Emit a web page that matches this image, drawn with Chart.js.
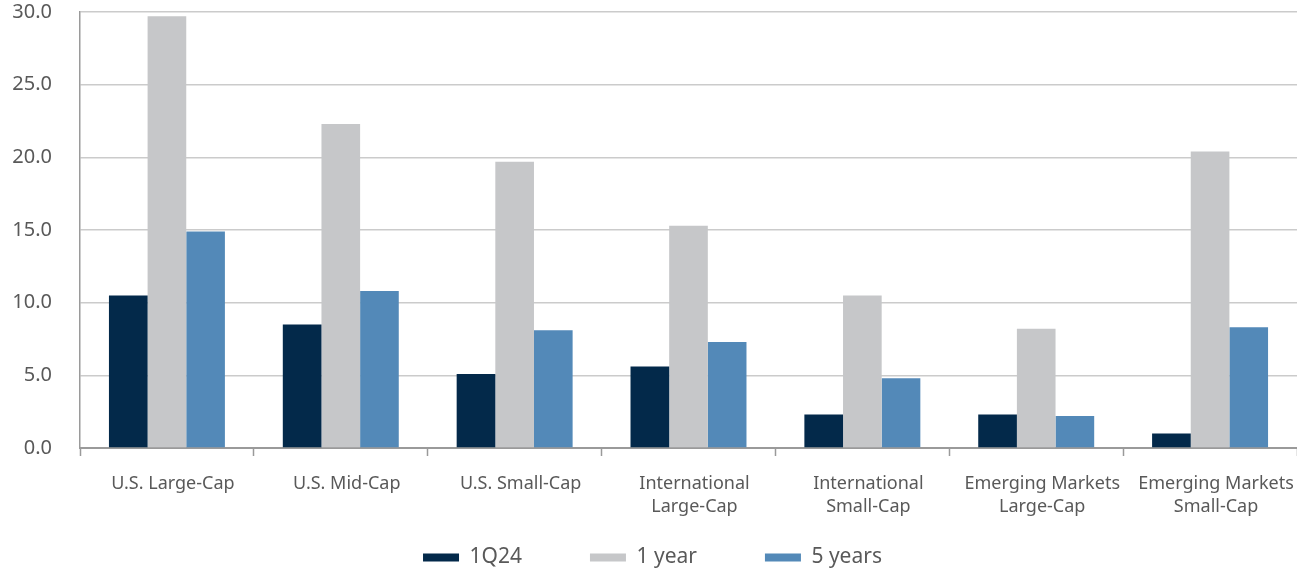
<!DOCTYPE html>
<html>
<head>
<meta charset="utf-8">
<script src="https://cdn.jsdelivr.net/npm/chart.js@4/dist/chart.umd.min.js"></script>
<style>
  html, body { margin: 0; padding: 0; background: #fff; }
  #wrap { width: 1297px; height: 569px; position: relative; }
</style>
</head>
<body>
<div id="wrap"><canvas id="returnsChart"></canvas></div>
<script>
// 카테고리 (두 줄 라벨은 배열로)
const categories = [
  "U.S. Large-Cap",
  "U.S. Mid-Cap",
  "U.S. Small-Cap",
  ["International", "Large-Cap"],
  ["International", "Small-Cap"],
  ["Emerging Markets", "Large-Cap"],
  ["Emerging Markets", "Small-Cap"],
];

const seriesNames = ["1Q24", "1 year", "5 years"];

// 시리즈 값
const q1_24 = [10.5, 8.5, 5.1, 5.6, 2.3, 2.3, 1.0];
const oneYear = [29.7, 22.3, 19.7, 15.3, 10.5, 8.2, 20.4];
const fiveYears = [14.9, 10.8, 8.1, 7.3, 4.8, 2.2, 8.3];

const yTicks = [0, 5, 10, 15, 20, 25, 30];

const colors = ["#03294a", "#c6c7c9", "#5389b8"];
const textColor = "#595959";
const fontFamily = "'Noto Sans', 'DejaVu Sans', sans-serif";

// 범례: padding이 세로로도 들어가서 높이를 줄이고 위치를 옮김
const legendFix = {
  id: "legendFix",
  beforeUpdate(chart) {
    const lg = chart.legend;
    if (lg && !lg._patched) {
      const orig = lg.fit.bind(lg);
      lg.fit = function () {
        orig();
        this.height = 36;
      };
      lg._patched = true;
    }
  },
  afterLayout(chart) {
    const lg = chart.legend;
    if (lg) {
      // 범례는 자기 박스로 clip 되므로 캔버스 끝까지 늘림
      lg.top = 479;
      lg.bottom = chart.height;
      lg.height = lg.bottom - lg.top;
    }
  },
};

const ctx = document.getElementById("returnsChart").getContext("2d");

const chart = new Chart(ctx, {
  type: "bar",
  data: {
    labels: categories,
    datasets: [q1_24, oneYear, fiveYears].map((vals, i) => ({
      label: seriesNames[i],
      data: vals,
      backgroundColor: colors[i],
      borderWidth: 0,
      categoryPercentage: 0.667,
      barPercentage: 1.0,
    })),
  },
  options: {
    responsive: true,
    maintainAspectRatio: false,
    animation: false,
    layout: {
      padding: { top: 12, right: -8, bottom: 0, left: 0 },
    },
    plugins: {
      tooltip: { enabled: false },
      legend: {
        display: true,
        position: "bottom",
        labels: {
          boxWidth: 36,
          boxHeight: 8,
          padding: 68,
          color: textColor,
          font: { family: fontFamily, size: 21 },
        },
      },
    },
    scales: {
      x: {
        afterFit: (scale) => {
          scale.height = 85;
          scale.paddingLeft = 0;
          scale.paddingRight = 0;
        },
        grid: {
          offset: true,
          drawOnChartArea: false,
          drawTicks: true,
          tickLength: 8,
          tickWidth: 1.5,
          tickColor: "#9a9a9a",
        },
        border: { display: true, color: "#9a9a9a", width: 2 },
        ticks: {
          padding: 16,
          labelOffset: 6,
          color: textColor,
          maxRotation: 0,
          autoSkip: false,
          font: { family: fontFamily, size: 18, lineHeight: 1.3 },
        },
      },
      y: {
        min: 0,
        max: 30,
        afterFit: (scale) => {
          scale.width = 80;
          scale.paddingTop = 0;
          scale.paddingBottom = 0;
        },
        afterBuildTicks: (scale) => {
          scale.ticks = yTicks.map((v) => ({ value: v }));
        },
        grid: {
          color: "#cbcbcb",
          lineWidth: 1.5,
          drawTicks: false,
        },
        border: { display: true, color: "#9a9a9a", width: 1.5 },
        ticks: {
          padding: 28,
          color: textColor,
          font: { family: fontFamily, size: 20 },
          callback: (v) => Number(v).toFixed(1),
        },
      },
    },
  },
  plugins: [legendFix],
});
</script>
</body>
</html>
